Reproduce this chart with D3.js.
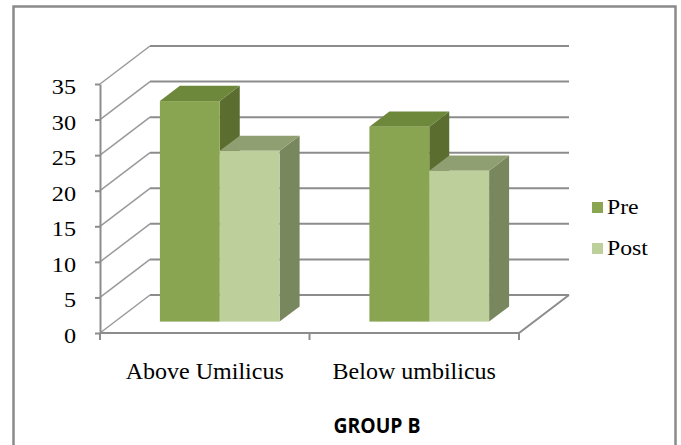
<!DOCTYPE html>
<html>
<head>
<meta charset="utf-8">
<script src="https://cdn.jsdelivr.net/npm/d3@7"></script>
<style>
  html, body { margin: 0; padding: 0; background: #fff; }
  svg { display: block; }
</style>
</head>
<body>
<svg id="chart" width="681" height="445"></svg>
<script>
// ---- data ----
const categories = ["Above Umilicus", "Below umbilicus"];
const seriesNames = ["Pre", "Post"];
const preValues = [31, 27.4];
const postValues = [24, 21.2];
const yTicks = [0, 5, 10, 15, 20, 25, 30, 35];
const chartTitle = "GROUP B";

const seriesValues = [preValues, postValues];
const colors = {
  Pre:  { front: "#8aa552", top: "#6e883b", side: "#5b6e30" },
  Post: { front: "#bdd09b", top: "#909f72", side: "#79875e" }
};
const serif = "'Liberation Serif', 'Times New Roman', serif";

const svg = d3.select("#chart");

// outer border
svg.append("rect").attr("x", 13.5).attr("y", 6.5).attr("width", 662).attr("height", 450)
  .attr("fill", "#fff").attr("stroke", "#8a8a8a").attr("stroke-width", 2.5);

// 3D geometry
const front = { x0: 100, x1: 519, y0: 333 };
const depth = { dx: 50, dy: -38 };
const y = d3.scaleLinear().domain([0, 35]).range([333, 84]);
const x = d3.scaleBand().domain(categories).range([front.x0, front.x1])
  .paddingInner(0.4286).paddingOuter(0.2143);
const xs = d3.scaleBand().domain(seriesNames).range([0, x.bandwidth()]);
const off = d => [depth.dx * d, depth.dy * d];

const grid = svg.append("g");
yTicks.forEach(t => {
  // back wall gridlines
  grid.append("line")
    .attr("x1", front.x0 + depth.dx).attr("x2", front.x1 + depth.dx)
    .attr("y1", y(t) + depth.dy).attr("y2", y(t) + depth.dy)
    .attr("stroke", "#8c8c8c").attr("stroke-width", 2);
  // left wall lines
  grid.append("line")
    .attr("x1", front.x0).attr("y1", y(t))
    .attr("x2", front.x0 + depth.dx).attr("y2", y(t) + depth.dy)
    .attr("stroke", "#9a9a9a").attr("stroke-width", 1.5);
});
// floor front and right edges
grid.append("path")
  .attr("d", `M${front.x0},${y(0)}L${front.x1},${y(0)}L${front.x1 + depth.dx},${y(0) + depth.dy}`)
  .attr("fill", "none").attr("stroke", "#8c8c8c").attr("stroke-width", 2);

// y axis
const yAxis = d3.axisLeft(y).tickValues(yTicks).tickSize(5).tickSizeOuter(0).tickFormat(d3.format("d"));
const ya = svg.append("g").attr("transform", `translate(${front.x0},0)`).call(yAxis);
ya.select(".domain").attr("stroke", "#8c8c8c").attr("stroke-width", 2);
ya.selectAll(".tick line").attr("stroke", "#8c8c8c").attr("stroke-width", 2);
ya.selectAll(".tick text").text(null);
yTicks.forEach(t => {
  svg.append("text")
    .attr("transform", `translate(76,${y(t) + 10}) scale(1.1,1)`)
    .attr("text-anchor", "end")
    .attr("font-family", serif)
    .attr("font-size", 22).attr("fill", "#000")
    .text(t);
});

// category axis ticks at band boundaries
const boundaries = [front.x0].concat(categories.map(c => x(c) - x.step() * x.paddingOuter() + x.step()));
boundaries.forEach(bx => {
  svg.append("line").attr("x1", bx).attr("x2", bx).attr("y1", y(0)).attr("y2", y(0) + 7)
    .attr("stroke", "#8c8c8c").attr("stroke-width", 2);
});
categories.forEach(c => {
  svg.append("text")
    .attr("x", x(c) + x.bandwidth() / 2).attr("y", 379)
    .attr("text-anchor", "middle")
    .attr("font-family", serif)
    .attr("font-size", 24).attr("fill", "#000")
    .text(c);
});

// bars
const barD0 = 0.3, barD1 = 0.7;
const [fdx, fdy] = off(barD0);
const [bdx, bdy] = off(barD1 - barD0);
const barsG = svg.append("g");
categories.forEach((c, ci) => {
  seriesNames.forEach((s, si) => {
    const v = seriesValues[si][ci];
    const xl = x(c) + xs(s) + fdx;
    const xr = xl + xs.bandwidth();
    const yb = y(0) + fdy;
    const yt = y(v) + fdy;
    const col = colors[s];
    barsG.append("path")
      .attr("d", `M${xr},${yt}L${xr + bdx},${yt + bdy}L${xr + bdx},${yb + bdy}L${xr},${yb}Z`)
      .attr("fill", col.side);
    barsG.append("path")
      .attr("d", `M${xl},${yt}L${xl + bdx},${yt + bdy}L${xr + bdx},${yt + bdy}L${xr},${yt}Z`)
      .attr("fill", col.top);
    barsG.append("rect")
      .attr("x", xl).attr("y", yt).attr("width", xs.bandwidth()).attr("height", yb - yt)
      .attr("fill", col.front);
  });
});

// legend
const legend = svg.append("g");
seriesNames.forEach((s, i) => {
  const ly = 202 + i * 41;
  legend.append("rect").attr("x", 592).attr("y", ly).attr("width", 11).attr("height", 11)
    .attr("fill", colors[s].front);
  legend.append("text")
    .attr("transform", `translate(607,${ly + 12}) scale(1.08,1)`)
    .attr("font-family", serif)
    .attr("font-size", 22).attr("fill", "#000")
    .text(s);
});

// title
svg.append("text")
  .attr("transform", `translate(377,433) scale(0.88,1)`)
  .attr("text-anchor", "middle")
  .attr("font-family", "'Open Sans', 'Liberation Sans', sans-serif")
  .attr("font-weight", 700)
  .attr("font-size", 22).attr("fill", "#000")
  .text(chartTitle);
</script>
</body>
</html>
